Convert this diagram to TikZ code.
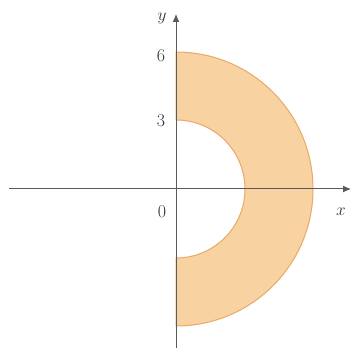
\documentclass[tikz,border=0pt]{standalone}
\usetikzlibrary{arrows.meta}
\definecolor{regfill}{RGB}{248,210,160}
\definecolor{regedge}{RGB}{230,170,105}
\definecolor{axiscol}{RGB}{90,90,90}
\definecolor{labcol}{RGB}{50,50,50}
\begin{document}
\begin{tikzpicture}[x=1pt,y=1pt,
  axisline/.style={draw=axiscol,line width=1pt,-{Latex[length=8pt,width=7pt]}},
  lab/.style={font=\fontsize{18}{20}\selectfont,text=labcol,inner sep=0pt}]
\useasboundingbox (0,0) rectangle (351,348);
\coordinate (O) at (176,159);
\fill[regfill,draw=regedge,line width=1pt] (176,296) arc[start angle=90,end angle=-90,radius=137] -- (176,90) arc[start angle=-90,end angle=90,radius=69] -- cycle;
\coordinate (xs) at (9,159);
\coordinate (xe) at (351,159);
\coordinate (ys) at (176,0);
\coordinate (ye) at (176,334);
\draw[axisline] (xs) -- (xe);
\draw[axisline] (ys) -- (ye);
\node[lab] (xl) at (341,136) {$x$};
\node[lab] (yl) at (162,330) {$y$};
\node[lab] (l6) at (161,292) {6};
\node[lab] (l3) at (161,227) {3};
\node[lab] (l0) at (162,136) {0};
\end{tikzpicture}
\end{document}
